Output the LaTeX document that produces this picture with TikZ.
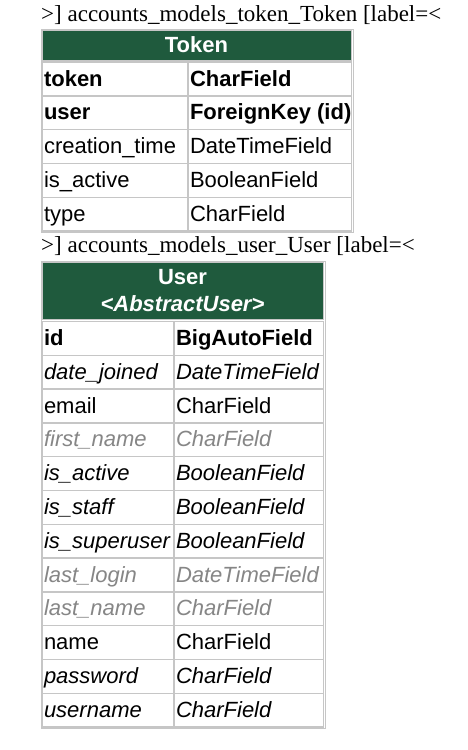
\documentclass[tikz,border=0pt]{standalone}
\usepackage{fontspec}
\setmainfont{Liberation Serif}
\newfontfamily\cellfont{Liberation Sans}
\definecolor{hdr}{HTML}{1F5A3D}
\definecolor{bord}{HTML}{C6C6C6}
\definecolor{dim}{HTML}{868686}
\newcommand\cfsize{\fontsize{22}{26}\selectfont}
\newcommand\cfn{\cellfont\cfsize}
\newcommand\cfb{\cellfont\cfsize\bfseries}
\newcommand\cfi{\cellfont\cfsize\itshape}
\newcommand\cfg{\cellfont\cfsize\itshape\color{dim}}
\tikzset{
  celltxt/.style={anchor=base west, inner sep=0pt, outer sep=0pt},
  hdrtxt/.style={anchor=base, inner sep=0pt, text=white},
  lbl/.style={anchor=base west, inner sep=0pt, font=\fontsize{23}{27}\selectfont},
  cellbox/.style={draw=bord, line width=1.4pt, fill=white},
  tablebox/.style={draw=bord, line width=1pt},
  hdrbox/.style={draw=bord, line width=1.2pt, fill=hdr}
}
\begin{document}
\begin{tikzpicture}[x=1pt,y=-1pt]
\useasboundingbox (0,0) rectangle (468,750);

% ---------- Token ----------
\node[lbl] (lab1) at (41,21) {>] accounts\_models\_token\_Token [label=<};
\draw[tablebox] (41,29) rectangle (353,232);
\draw[hdrbox] (42.5,30.5) rectangle (351.5,60.5);
\node[hdrtxt, font=\cfb] (tkh) at (196.5,52) {Token};
\foreach \n/\t/\s [count=\i from 0] in {
  token/CharField/b,
  user/ForeignKey (id)/b,
  creation\_time/DateTimeField/n,
  is\_active/BooleanField/n,
  type/CharField/n}{
  \pgfmathsetmacro\top{62+33.8*\i}
  \pgfmathsetmacro\bot{\top+33.8}
  \draw[cellbox] (42.5,\top) rectangle (188,\bot);
  \draw[cellbox] (188,\top) rectangle (351.5,\bot);
  \node[celltxt] (tkl\i) at (44,\top+24) {\csname cf\s\endcsname \n};
  \node[celltxt] (tkr\i) at (190,\top+24) {\csname cf\s\endcsname \t};
}

% ---------- User ----------
\node[lbl] (lab2) at (41,252) {>] accounts\_models\_user\_User [label=<};
\draw[tablebox] (41,261) rectangle (325,728);
\draw[hdrbox] (42.5,262.5) rectangle (323.5,319.5);
\node[hdrtxt, font=\cfb] (ush1) at (182.5,284) {User};
\node[hdrtxt, font=\cfb\itshape] (ush2) at (182.5,311) {<AbstractUser>};
\foreach \n/\t/\s [count=\i from 0] in {
  id/BigAutoField/b,
  date\_joined/DateTimeField/i,
  email/CharField/n,
  first\_name/CharField/g,
  is\_active/BooleanField/i,
  is\_staff/BooleanField/i,
  is\_superuser/BooleanField/i,
  last\_login/DateTimeField/g,
  last\_name/CharField/g,
  name/CharField/n,
  password/CharField/i,
  username/CharField/i}{
  \pgfmathsetmacro\top{321.5+33.8*\i}
  \pgfmathsetmacro\bot{\top+33.8}
  \draw[cellbox] (42.5,\top) rectangle (174,\bot);
  \draw[cellbox] (174,\top) rectangle (323.5,\bot);
  \node[celltxt] (usl\i) at (44,\top+24) {\csname cf\s\endcsname \n};
  \node[celltxt] (usr\i) at (176,\top+24) {\csname cf\s\endcsname \t};
}
\end{tikzpicture}
\end{document}
